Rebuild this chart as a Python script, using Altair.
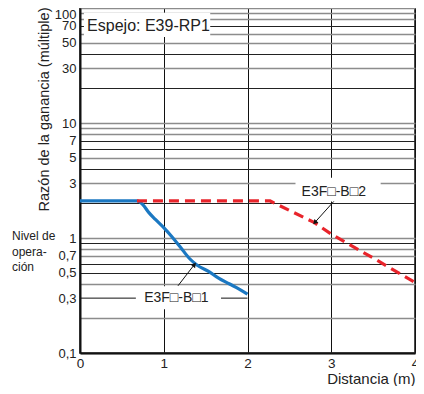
import altair as alt
import pandas as pd

# ---- data ----
blue_x = [0, 0.68, 0.75, 0.82, 0.9, 1.0, 1.1, 1.2, 1.31, 1.4, 1.54, 1.65, 1.78, 1.9, 2.0]
blue_y = [2.1, 2.1, 1.95, 1.67, 1.45, 1.23, 1.02, 0.83, 0.66, 0.58, 0.51, 0.45, 0.40, 0.36, 0.325]
red_x = [0.68, 2.27, 2.8, 3.0, 3.5, 4.0]
red_y = [2.1, 2.1, 1.36, 1.08, 0.67, 0.41]

x_ticks = [0, 1, 2, 3, 4]
y_grid = [0.1, 0.2, 0.3, 0.4, 0.5, 0.6, 0.7, 0.8, 0.9,
          1, 2, 3, 4, 5, 6, 7, 8, 9,
          10, 20, 30, 40, 50, 60, 70, 80, 90, 100]
y_tick_labels = [0.1, 0.3, 0.5, 0.7, 1, 3, 5, 7, 10, 30, 50, 70, 100]
y_dark_grid = [70, 40, 20, 7, 6, 4, 2, 0.9, 0.6, 0.5]

# annotations (data coordinates)
mirror_text = ["Espejo: E39-RP1"]
mirror_x = [0.085]
mirror_y = [70]
series_text = ["E3F\u25a1-B\u25a12", "E3F\u25a1-B\u25a11"]
series_lab_x = [3.03, 1.15]
series_lab_y = [2.52, 0.30]
box_x = [0.047, 2.573, 0.667]
box_x2 = [1.555, 3.59, 1.684]
box_y = [91, 3.34, 0.38]
box_y2 = [56, 2.08, 0.24]
arrow_from_x = [1.17, 3.03]
arrow_from_y = [0.384, 2.08]
arrow_to_x = [1.36, 2.81]
arrow_to_y = [0.58, 1.38]

FONT = "Liberation Sans"

blue = pd.DataFrame({"x": blue_x, "y": blue_y})
red = pd.DataFrame({"x": red_x, "y": red_y})
boxes = pd.DataFrame({"x": box_x, "x2": box_x2, "y": box_y, "y2": box_y2})
mirror = pd.DataFrame({"x": mirror_x, "y": mirror_y, "t": mirror_text})
series_lab = pd.DataFrame({"x": series_lab_x, "y": series_lab_y, "t": series_text})
arrows = pd.DataFrame({"x": arrow_from_x, "y": arrow_from_y,
                       "x2": arrow_to_x, "y2": arrow_to_y})
heads = pd.DataFrame({"x": arrow_to_x, "y": arrow_to_y, "angle": [38, 223]})
partial = pd.DataFrame({"x": [0], "x2": [2], "y": [0.3]})

lab_list = ",".join(str(v) for v in y_tick_labels)
dark_list = ",".join(str(v) for v in y_dark_grid)

xscale = alt.Scale(domain=[0, 4], nice=False, zero=False)
yscale = alt.Scale(type="log", domain=[0.1, 100], nice=False)

x_axis = alt.Axis(
    values=x_ticks, format="d", grid=True, gridColor="#111", gridWidth=1, ticks=False,
    domain=True, domainColor="#111", domainWidth=2,
    labelFont=FONT, labelFontSize=13.5, labelColor="#222", labelPadding=3,
    labelFlush=False,
    title="Distancia (m)", titleFont=FONT, titleFontSize=15, titleFontWeight="normal",
    titleColor="#222", titleX=335, titleY=25, titleAlign="right", titleBaseline="middle",
)
y_axis = alt.Axis(
    values=y_grid, grid=True, ticks=False,
    gridColor={"condition": {"test": f"indexof([{dark_list}], datum.value) >= 0", "value": "#222"},
               "value": "#8c8c8c"},
    gridWidth={"condition": {"test": f"indexof([{dark_list}], datum.value) >= 0", "value": 1},
               "value": 1.6},
    gridOpacity={"condition": {"test": "abs(datum.value - 0.3) < 1e-9", "value": 0}, "value": 1},
    domain=True, domainColor="#111", domainWidth=2,
    labelExpr=f"indexof([{lab_list}], datum.value) >= 0 ? replace(toString(datum.value), '.', ',') : ''",
    labelFont=FONT, labelFontSize=13, labelColor="#222", labelPadding=4, labelOverlap=False,
    labelBaseline={"condition": {"test": "datum.value >= 100", "value": "top"}, "value": "middle"},
    title="Razón de la ganancia (múltiple)", titleFont=FONT, titleFontSize=14.5,
    titleFontWeight="normal", titleColor="#222", titleAngle=270,
    titleX=-36, titleY=101, titleAlign="center", titleBaseline="middle",
)

base_x = alt.X("x:Q", scale=xscale, axis=x_axis)
base_y = alt.Y("y:Q", scale=yscale, axis=y_axis)
px = alt.X("x:Q", scale=xscale)
py = alt.Y("y:Q", scale=yscale)

blue_line = alt.Chart(blue).mark_line(color="#1b78c2", strokeWidth=3.2, interpolate="monotone").encode(
    x=base_x, y=base_y)
red_line = alt.Chart(red).mark_line(color="#e8242b", strokeWidth=3.2, strokeDash=[10, 6]).encode(
    x=px, y=py)
partial_rule = alt.Chart(partial).mark_rule(color="#111", strokeWidth=1).encode(
    x=px, x2="x2:Q", y=py)
box_layer = alt.Chart(boxes).mark_rect(color="white").encode(
    x=px, x2="x2:Q", y=py, y2="y2:Q")
mirror_layer = alt.Chart(mirror).mark_text(font=FONT, fontSize=16, color="#222",
                                           align="left", baseline="middle").encode(
    x=px, y=py, text="t:N")
series_layer = alt.Chart(series_lab).mark_text(font=FONT, fontSize=14, color="#222",
                                               align="center", baseline="middle").encode(
    x=px, y=py, text="t:N")
arrow_layer = alt.Chart(arrows).mark_rule(color="#111", strokeWidth=1).encode(
    x=px, y=py, x2="x2:Q", y2="y2:Q")
head_layer = alt.Chart(heads).mark_point(shape="triangle", filled=True, color="#111",
                                         size=30, opacity=1).encode(
    x=px, y=py, angle=alt.Angle("angle:Q", scale=None))
nivel = alt.Chart(pd.DataFrame({"t": ["Nivel de\nopera-\nción"]})).mark_text(
    font=FONT, fontSize=12, color="#222", align="left", baseline="alphabetic",
    lineBreak="\n", lineHeight=15.5).encode(
    x=alt.value(-68), y=alt.value(232), text="t:N")

chart = alt.layer(
    blue_line, partial_rule, box_layer, red_line, arrow_layer, head_layer,
    mirror_layer, series_layer, nivel
).properties(
    width=335, height=345,
    padding={"left": 72, "top": 0, "right": 1, "bottom": 33},
    autosize=alt.AutoSizeParams(type="none"),
).configure_view(stroke="#111", strokeWidth=1.5)

chart.save("out.html", embed_options={"renderer": "svg", "actions": False})
